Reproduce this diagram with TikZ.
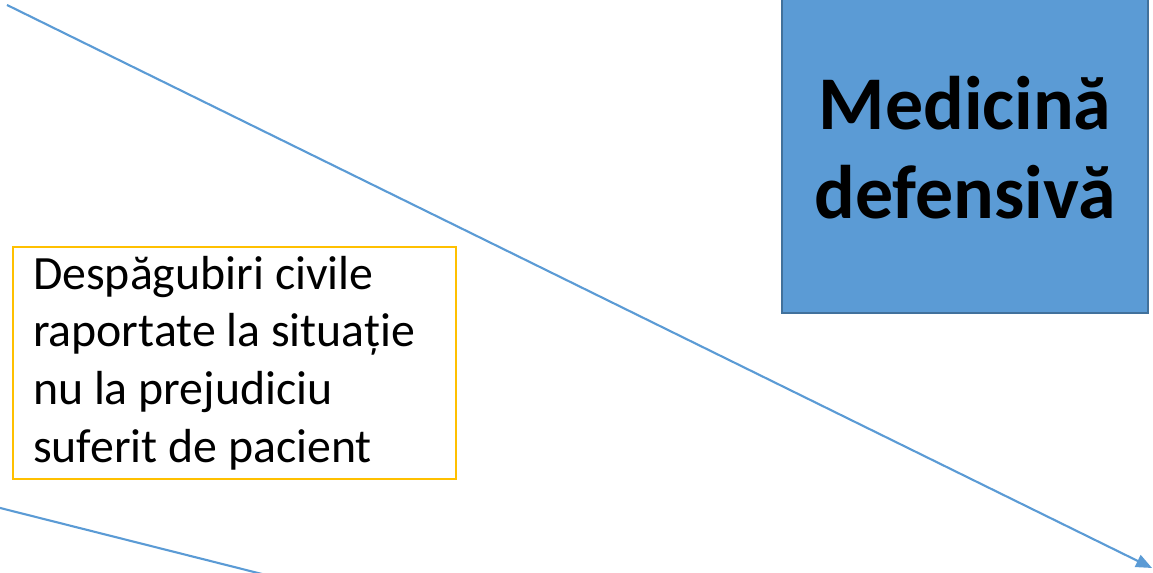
\documentclass[tikz,border=0pt]{standalone}
\usepackage{fontspec}
\setmainfont{Carlito}
\usetikzlibrary{arrows.meta}

\definecolor{medblue}{HTML}{5B9BD5}
\definecolor{mededge}{HTML}{41719C}
\definecolor{medgold}{HTML}{FFC000}

\tikzset{
	bluebox/.style = {rectangle, fill=medblue, draw=mededge, line width=0.6pt,
		minimum width=3.66cm, minimum height=3.3cm, align=center,
		font=\fontsize{21.6}{25.3}\selectfont\bfseries},
	goldbox/.style = {rectangle, draw=medgold, line width=0.6pt,
		minimum width=4.43cm, minimum height=2.32cm, text width=4.03cm,
		inner xsep=0.2cm, inner ysep=0.05cm, align=flush left,
		font=\fontsize{13.6}{16.4}\selectfont},
	blueline/.style = {draw=medblue, line width=0.6pt}
}

\begin{document}
\begin{tikzpicture}
\useasboundingbox (0, 0) rectangle (11.53, 5.73);
\clip (0, 0) rectangle (11.53, 5.73);

\node[bluebox] (medicina) at (9.65, 4.25) {Medicină\\defensivă};
\node[goldbox, anchor=north west] (despagubiri) at (0.12, 3.27)
	{Despăgubiri civile\\raportate la situație\\nu la prejudiciu\\suferit de pacient};

% long arrow across the picture
\coordinate (lungA) at (0.07, 5.68);
\coordinate (lungB) at (11.52, 0.05);
\draw[blueline, -{Triangle[length=0.16cm, width=0.13cm]}] (lungA) -- (lungB);

% short line at the bottom
\coordinate (scurtA) at (-0.3, 0.726);
\coordinate (scurtB) at (3.0, -0.106);
\draw[blueline] (scurtA) -- (scurtB);
\end{tikzpicture}
\end{document}
